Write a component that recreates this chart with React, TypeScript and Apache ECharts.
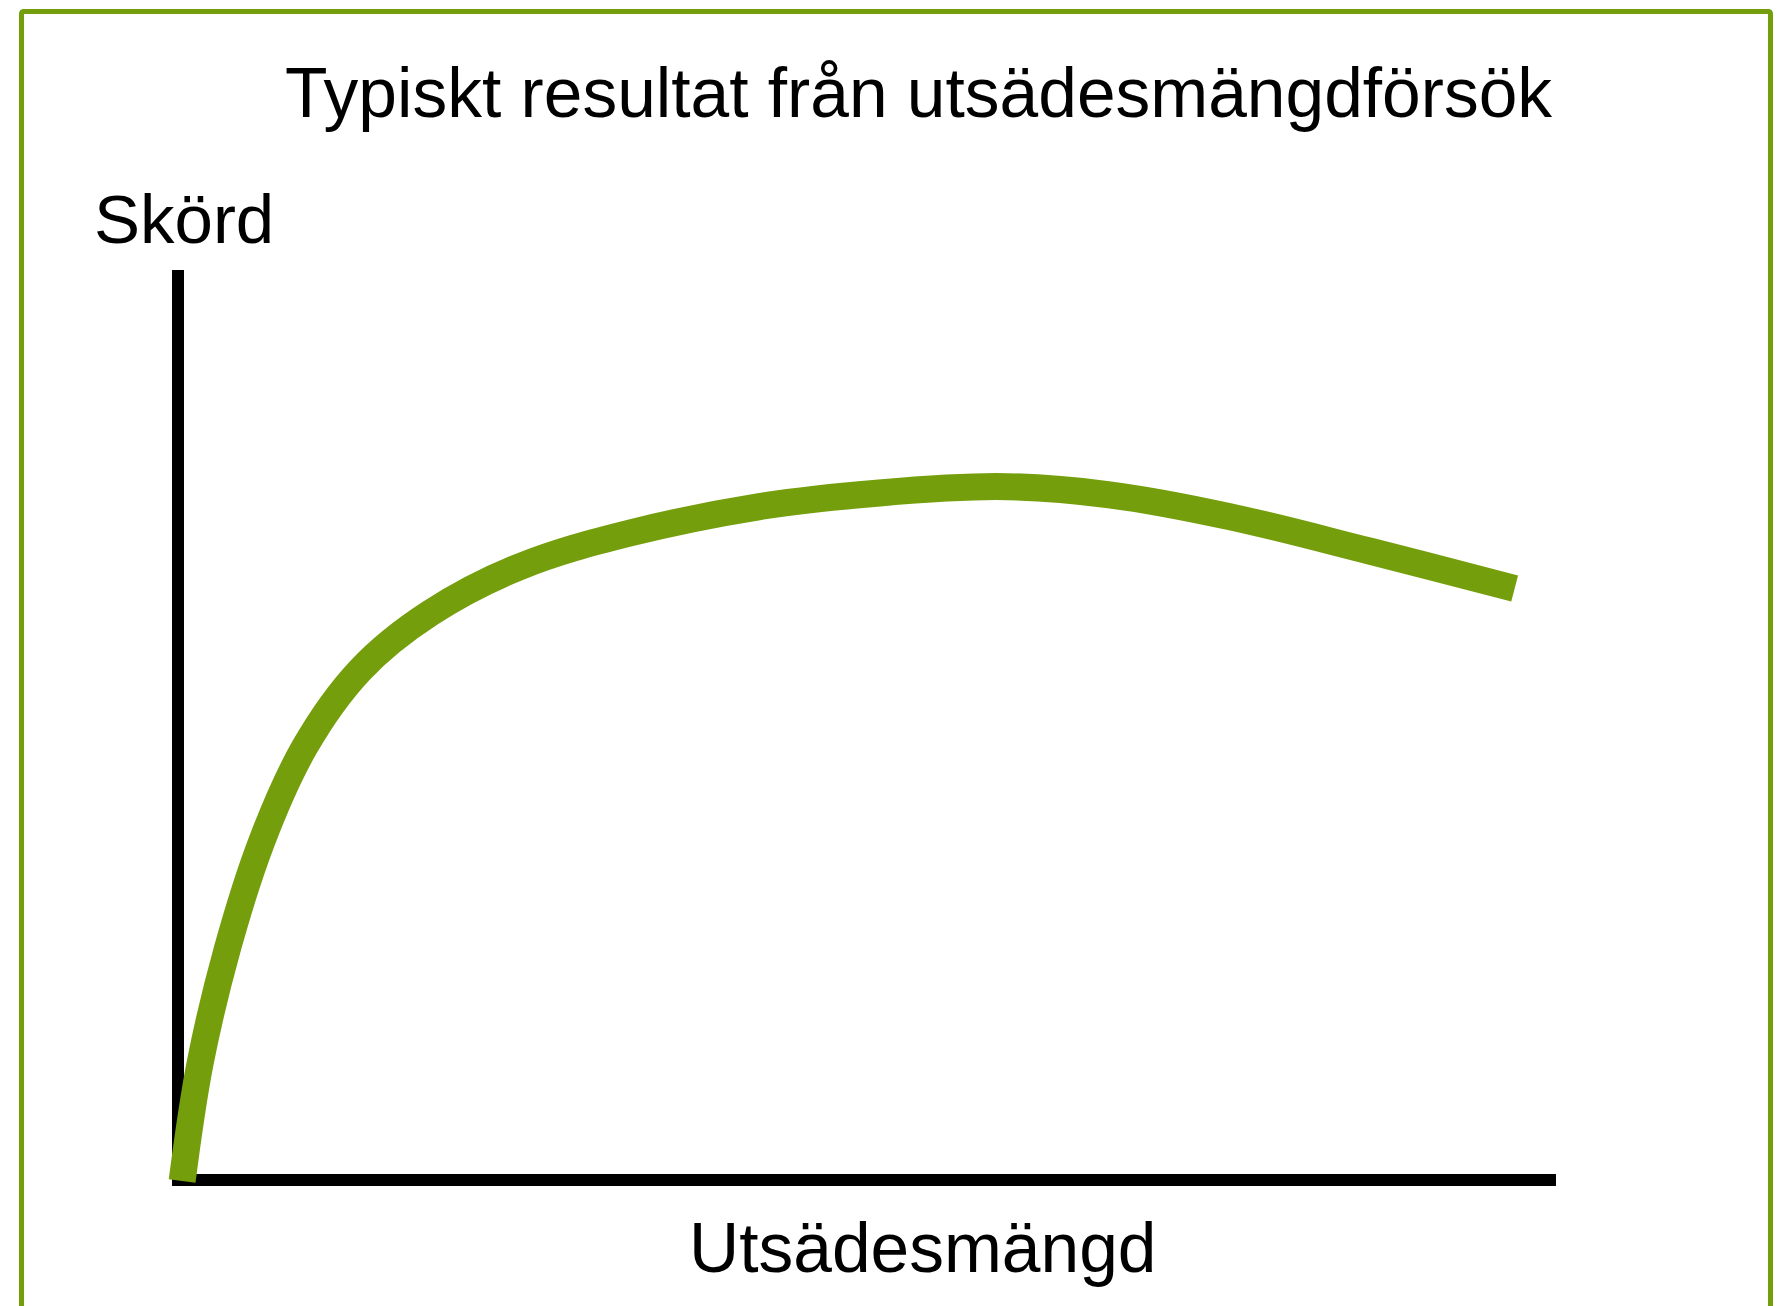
import React, { useEffect, useRef } from "react";
import * as echarts from "echarts";

const titleText = "Typiskt resultat från utsädesmängdförsök";
const yAxisLabel = "Skörd";
const xAxisLabel = "Utsädesmängd";

// Seed rate (x, 0-100 relative) and yield (y, 0-100 relative) along the curve
const seedRate = [0.3, 1.6, 3.6, 6.1, 9.2, 13.2, 18.3, 24.8, 32.8, 42.2, 50.9, 59.4, 67.6, 76.3, 86.5, 97.0];
const yieldValue = [-0.1, 12.8, 25.5, 37.3, 47.6, 56.0, 62.3, 67.4, 71.1, 74.0, 75.5, 76.2, 75.3, 72.9, 69.1, 65.0];

const GREEN = "#749e0c";
const FONT = "Liberation Sans, Arial, sans-serif";

export default function App() {
  const ref = useRef<HTMLDivElement>(null);
  useEffect(() => {
    if (!ref.current) return;
    const chart = echarts.init(ref.current, undefined, { renderer: "svg" });
    const data = seedRate.map((x, i) => [x, yieldValue[i]]);
    chart.setOption({
      animation: false,
      backgroundColor: "#ffffff",
      grid: { left: 178, right: 226, top: 270, bottom: 126, containLabel: false },
      xAxis: {
        type: "value",
        min: 0,
        max: 100,
        axisLine: { show: true, lineStyle: { color: "#000", width: 12, cap: "butt" } },
        axisTick: { show: false },
        axisLabel: { show: false },
        splitLine: { show: false },
      },
      yAxis: {
        type: "value",
        min: 0,
        max: 100,
        axisLine: { show: true, lineStyle: { color: "#000", width: 12, cap: "butt" } },
        axisTick: { show: false },
        axisLabel: { show: false },
        splitLine: { show: false },
      },
      series: [
        {
          type: "line",
          data,
          smooth: 0.35,
          symbol: "none",
          clip: false,
          z: 5,
          lineStyle: { color: GREEN, width: 27, cap: "butt", join: "round" },
        },
      ],
      graphic: [
        {
          type: "rect",
          shape: { x: 21.5, y: 11.5, width: 1749, height: 1400, r: 2 },
          style: { fill: "none", stroke: GREEN, lineWidth: 5 },
          silent: true,
          z: 10,
        },
        {
          type: "rect",
          shape: { x: 172, y: 1174, width: 12, height: 12 },
          style: { fill: "#000" },
          z: 1,
        },
        {
          type: "text",
          x: 285,
          y: 93,
          style: { text: titleText, font: `69.5px ${FONT}`, fill: "#000", textAlign: "left", textVerticalAlign: "middle" },
          z: 10,
        },
        {
          type: "text",
          x: 94,
          y: 219,
          style: { text: yAxisLabel, font: `69px ${FONT}`, fill: "#000", textAlign: "left", textVerticalAlign: "middle" },
          z: 10,
        },
        {
          type: "text",
          x: 689,
          y: 1248,
          style: { text: xAxisLabel, font: `69.5px ${FONT}`, fill: "#000", textAlign: "left", textVerticalAlign: "middle" },
          z: 10,
        },
      ],
    });
    return () => chart.dispose();
  }, []);
  return (
    <div
      ref={ref}
      style={{ position: "absolute", left: 0, top: 0, width: 1782, height: 1306, background: "#fff" }}
    />
  );
}
